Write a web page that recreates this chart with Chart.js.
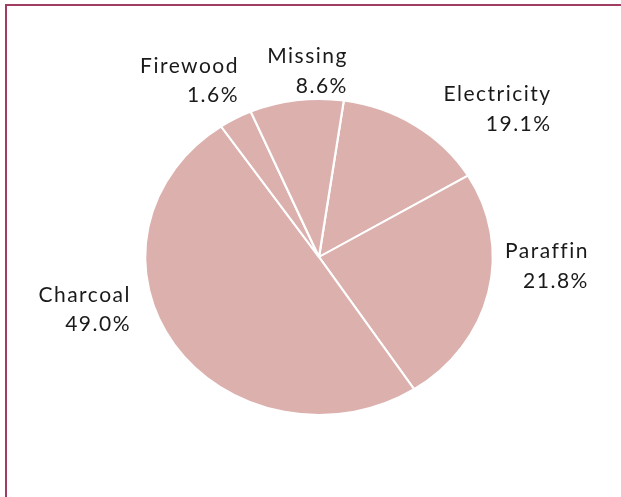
<!DOCTYPE html>
<html>
<head>
<meta charset="utf-8">
<script src="https://cdn.jsdelivr.net/npm/chart.js@4.4.1/dist/chart.umd.min.js"></script>
<style>
  html, body { margin: 0; padding: 0; background: #fff; }
  #wrap { position: relative; width: 621px; height: 497px; overflow: hidden; }
  #frame {
    position: absolute; left: 5px; top: 4px; right: -10px; bottom: -10px;
    border-top: 2px solid #a13c62; border-left: 2px solid #a13c62;
  }
  #pie { position: absolute; left: 0; top: 0; }
</style>
</head>
<body>
<div id="wrap">
  <div id="frame"></div>
  <canvas id="pie" width="621" height="497"></canvas>
</div>
<script>
// slices, clockwise from just right of 12 o'clock
const categories = ['Electricity', 'Paraffin', 'Charcoal', 'Firewood', 'Missing'];
// slice sizes as drawn in the picture (share of the full circle, %)
const shares = [14.1, 24.4, 49.7, 3.1, 8.7];
// percentages printed next to each slice
const pctLabels = ['19.1%', '21.8%', '49.0%', '1.6%', '8.6%'];

const STRETCH_X = 1.1;   // the pie is drawn as a slightly wide oval
const FONT = '21px Lato, "Noto Sans", sans-serif';

// label nudges from the slice's outer mid point: right edge x, first baseline y
const labelNudge = {
  Electricity: [135, -24],
  Paraffin: [99, -34],
  Charcoal: [-45, -43],
  Firewood: [2, -45.5],
  Missing: [50, -37],
};

const ovalPlugin = {
  id: 'oval',
  beforeDatasetsDraw(chart) {
    const arc = chart.getDatasetMeta(0).data[0];
    const ctx = chart.ctx;
    ctx.save();
    ctx.translate(arc.x, arc.y);
    ctx.scale(STRETCH_X, 1);
    ctx.translate(-arc.x, -arc.y);
  },
  afterDatasetsDraw(chart) {
    chart.ctx.restore();
  },
};

const labelPlugin = {
  id: 'sliceLabels',
  afterDraw(chart) {
    const ctx = chart.ctx;
    const meta = chart.getDatasetMeta(0);
    ctx.save();
    ctx.font = FONT;
    ctx.letterSpacing = '1.5px';
    ctx.fillStyle = '#1a1a1a';
    ctx.textAlign = 'right';
    ctx.textBaseline = 'alphabetic';
    meta.data.forEach((arc, i) => {
      const p = arc.getProps(['x', 'y', 'startAngle', 'endAngle', 'outerRadius'], true);
      const mid = (p.startAngle + p.endAngle) / 2;
      const ax = p.x + Math.cos(mid) * p.outerRadius * STRETCH_X;
      const ay = p.y + Math.sin(mid) * p.outerRadius;
      const name = chart.data.labels[i];
      const [dx, dy] = labelNudge[name];
      // trailing letter spacing pushes right-aligned text left, so add it back
      ctx.fillText(name, ax + dx + 1.5, ay + dy);
      ctx.fillText(pctLabels[i], ax + dx + 1.5, ay + dy + 29.5);
    });
    ctx.restore();
  },
};

new Chart(document.getElementById('pie').getContext('2d'), {
  type: 'pie',
  data: {
    labels: categories,
    datasets: [{
      data: shares,
      backgroundColor: '#dbb0ad',
      borderColor: '#ffffff',
      borderWidth: 2,
      radius: 158,
    }],
  },
  options: {
    responsive: false,
    animation: false,
    rotation: 8.2,
    layout: { padding: { left: 17, right: 0, top: 17, bottom: 0 } },
    plugins: {
      legend: { display: false },
      tooltip: { enabled: false },
    },
  },
  plugins: [ovalPlugin, labelPlugin],
});
</script>
</body>
</html>
